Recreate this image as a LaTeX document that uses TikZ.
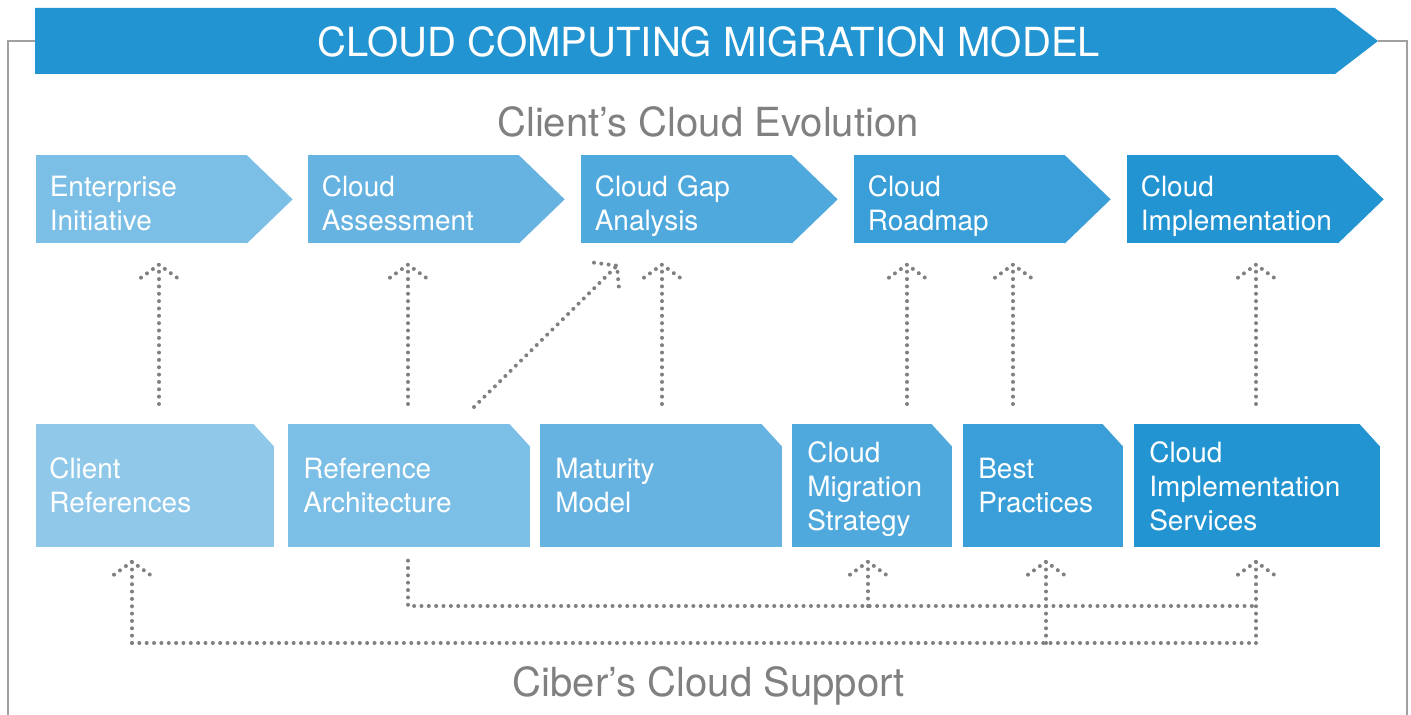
\documentclass[tikz,border=0pt]{standalone}
\usepackage{fontspec}
\setmainfont{TeX Gyre Heros}
\usetikzlibrary{calc}
\definecolor{blueA}{HTML}{8FC8E8}
\definecolor{blueB}{HTML}{7BBEE6}
\definecolor{blueC}{HTML}{66B3E2}
\definecolor{blueD}{HTML}{50A9DD}
\definecolor{blueE}{HTML}{3A9FD8}
\definecolor{blueF}{HTML}{2294D1}
\definecolor{dotgrey}{HTML}{808080}
\definecolor{framegrey}{HTML}{A0A0A0}
\tikzstyle{stage}=[rectangle,anchor=north west,minimum width=4.22cm,minimum height=1.76cm,
inner xsep=0.27cm,inner ysep=0pt,text width=3.68cm,align=left,text=white,
text height=0.82cm,text depth=0.94cm,font=\fontsize{15.9}{19.3}\selectfont]
\tikzstyle{support}=[rectangle,anchor=north west,minimum height=2.46cm,
inner xsep=0.3cm,inner ysep=0pt,align=left,text=white,
text height=1.08cm,text depth=1.38cm,font=\fontsize{15.9}{19.3}\selectfont]
\tikzstyle{threelines}=[text height=0.76cm,text depth=1.70cm]
\tikzstyle{greytext}=[anchor=base,text=dotgrey,font=\fontsize{22.8}{27}\selectfont]
\tikzstyle{dotline}=[draw=dotgrey,line width=0.08cm,line cap=round,dash pattern=on 0pt off 0.147cm]
\newcommand{\dotarrow}[4]{\draw[dotline] (#1) -- (#2) ++(#3) -- (#2) -- ++(#4);}

\begin{document}
\begin{tikzpicture}[x=0.02cm,y=-0.02cm]
    \useasboundingbox (0,0) rectangle (1411,715);

    % frame and banner
    \draw[framegrey,line width=0.03cm] (35,41) -- (8,41) -- (8,715);
    \draw[framegrey,line width=0.03cm] (1378,41) -- (1407,41) -- (1407,715);
    \fill[blueF] (35,8) -- (1335,8) -- (1378,41) -- (1335,74) -- (35,74) -- cycle;
    \node (title) [anchor=base,text=white,font=\fontsize{22.8}{27}\selectfont] at (709,57) {CLOUD COMPUTING MIGRATION MODEL};

    \node (evo) [greytext] at (708,137) {Client’s Cloud Evolution};

    % evolution stages
    \node (ei) [stage,fill=blueB] at (36,155) {Enterprise\\Initiative};
    \node (ca) [stage,fill=blueC] at (308,155) {Cloud\\Assessment};
    \node (cga) [stage,fill=blueD] at (581,155) {Cloud Gap\\Analysis};
    \node (crm) [stage,fill=blueE] at (854,155) {Cloud\\Roadmap};
    \node (ci) [stage,fill=blueF] at (1127,155) {Cloud\\Implementation};
    \foreach \n/\c in {ei/blueB,ca/blueC,cga/blueD,crm/blueE,ci/blueF}
        \fill[\c] ($(\n.north east)+(-1,0)$) -- ($(\n.east)+(45,0)$) -- ($(\n.south east)+(-1,0)$) -- cycle;

    % support boxes
    \node (cr) [support,fill=blueA,text width=4.24cm,inner xsep=0.26cm] at (36,424) {Client\\References};
    \node (ra) [support,fill=blueB,text width=4.24cm] at (288,424) {Reference\\Architecture};
    \node (mm) [support,fill=blueC,text width=4.24cm] at (540,424) {Maturity\\Model};
    \node (cms) [support,threelines,fill=blueD,text width=2.6cm] at (792,424) {Cloud\\Migration\\Strategy};
    \node (bp) [support,fill=blueE,text width=2.6cm] at (963,424) {Best\\Practices};
    \node (cis) [support,threelines,fill=blueF,text width=4.32cm] at (1134,424) {Cloud\\Implementation\\Services};
    \foreach \n in {cr,ra,mm,cms,bp,cis}
        \fill[white] (\n.north east) -- ++(-21,0) -- ++(21,23) -- cycle;

    \node (sup) [greytext] at (709,697) {Ciber’s Cloud Support};

    % upward links
    \coordinate (a1) at (159,0);
    \coordinate (a2) at (408,0);
    \coordinate (a3) at (662,0);
    \coordinate (a4) at (907,0);
    \coordinate (a5) at (1013,0);
    \coordinate (a6) at (1256,0);
    \dotarrow{$(cr.north -| a1)+(0,-20)$}{$(ei.south -| a1)+(0,21)$}{-18,13}{18,13}
    \dotarrow{$(ra.north -| a2)+(0,-20)$}{$(ca.south -| a2)+(0,21)$}{-18,13}{18,13}
    \dotarrow{$(mm.north -| a3)+(0,-20)$}{$(cga.south -| a3)+(0,21)$}{-18,13}{18,13}
    \dotarrow{$(cms.north -| a4)+(0,-20)$}{$(crm.south -| a4)+(0,21)$}{-18,13}{18,13}
    \dotarrow{$(bp.north -| a5)+(0,-20)$}{$(crm.south -| a5)+(0,21)$}{-18,13}{18,13}
    \dotarrow{$(cis.north -| a6)+(0,-20)$}{$(ci.south -| a6)+(0,21)$}{-18,13}{18,13}
    \coordinate (d1) at (474,0);
    \coordinate (d2) at (617,0);
    \dotarrow{$(ra.north -| d1)+(0,-17)$}{$(cga.south -| d2)+(0,22)$}{-23,-3}{2,23}

    % support links
    \coordinate (r1) at (0,606);
    \coordinate (r2) at (0,643);
    \coordinate (b1) at (132,0);
    \coordinate (b2) at (868,0);
    \coordinate (b3) at (1046,0);
    \coordinate (b4) at (1256,0);
    \draw[dotline] ($(ra.south -| a2)+(0,13)$) |- (b4 |- r1);
    \draw[dotline] (b1 |- r2) -- (b4 |- r2);
    \dotarrow{b1 |- r2}{$(cr.south -| b1)+(0,14)$}{-18,13}{18,13}
    \dotarrow{b2 |- r1}{$(cms.south -| b2)+(0,14)$}{-18,13}{18,13}
    \dotarrow{b3 |- r2}{$(bp.south -| b3)+(0,14)$}{-18,13}{18,13}
    \dotarrow{b4 |- r2}{$(cis.south -| b4)+(0,14)$}{-18,13}{18,13}
\end{tikzpicture}
\end{document}
